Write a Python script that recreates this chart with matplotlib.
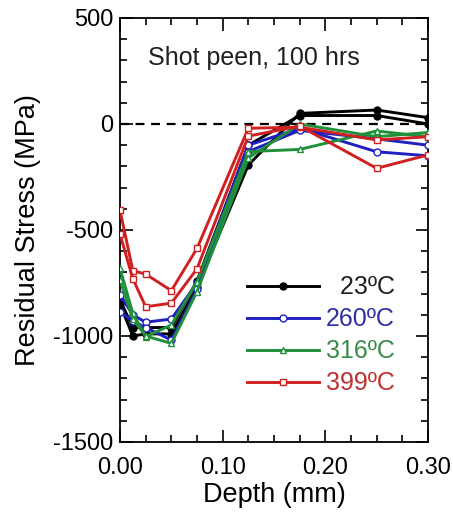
import matplotlib
matplotlib.use("Agg")
import matplotlib.pyplot as plt
from matplotlib.ticker import MultipleLocator

plt.rcParams['font.family'] = ['Liberation Sans', 'DejaVu Sans']
plt.rcParams['axes.unicode_minus'] = False

depth = [0.0, 0.0125, 0.025, 0.05, 0.075, 0.125, 0.175, 0.25, 0.30]

t23_a = [-850, -1000, -990, -990, -770, -193, 50, 66, 30]
t23_b = [-830, -960, -960, -960, -740, -100, 40, 40, 0]
t260_a = [-807, -900, -935, -920, -750, -100, -20, -131, -150]
t260_b = [-885, -930, -960, -1019, -780, -130, -30, -70, -100]
t316_a = [-681, -893, -1003, -948, -743, -130, -120, -33, -60]
t316_b = [-736, -920, -1000, -1035, -791, -160, 0, -60, -40]
t399_a = [-406, -692, -708, -786, -587, -20, -15, -75, -60]
t399_b = [-519, -730, -862, -845, -683, -57, -10, -209, -146]

labels = ["  23ºC", "260ºC", "316ºC", "399ºC"]
line_colors = ["#000000", "#2020c0", "#20903a", "#d02020"]
text_colors = ["#202020", "#3030a0", "#3a8a4a", "#c03030"]
markers = ["o", "o", "^", "s"]
fills = ["#000000", "white", "white", "white"]

fig = plt.figure(figsize=(4.53, 5.14), dpi=100)
ax = fig.add_axes([120/453, 1-442/514, 308/453, 424/514])

ax.plot([0, 0.30], [0, 0], color="black", lw=1.6, ls=(0, (4, 3)), zorder=1)

series = [(t23_a, t23_b), (t260_a, t260_b), (t316_a, t316_b), (t399_a, t399_b)]
handles = []
for (a, b), c, m, f, lab in zip(series, line_colors, markers, fills, labels):
    h, = ax.plot(depth, a, color=c, lw=2.1, marker=m, ms=5, mfc=f, mec=c, mew=1,
                 label=lab, zorder=3)
    ax.plot(depth, b, color=c, lw=2.1, marker=m, ms=5, mfc=f, mec=c, mew=1,
            zorder=3)
    handles.append(h)

ax.set_xlim(0, 0.30)
ax.set_ylim(-1500, 500)
ax.xaxis.set_minor_locator(MultipleLocator(0.025))
ax.yaxis.set_major_locator(MultipleLocator(500))
ax.yaxis.set_minor_locator(MultipleLocator(100))
ax.set_xticks([0, 0.1, 0.2, 0.3])
ax.set_xticklabels(["0.00", "0.10", "0.20", "0.30"])
ax.tick_params(which="both", direction="in", top=True, right=True, width=1.2)
ax.tick_params(which="major", length=9, labelsize=17)
ax.tick_params(axis="x", which="major", pad=11)
ax.tick_params(axis="y", which="major", pad=5)
ax.tick_params(which="minor", length=5)
for s in ax.spines.values():
    s.set_linewidth(1.3)

ax.set_xlabel("Depth (mm)", fontsize=19.5)
ax.xaxis.set_label_coords(0.5, -0.095)
ax.set_ylabel("Residual Stress (MPa)", fontsize=19.5)
ax.yaxis.set_label_coords(-0.255, 0.5)

ax.text(0.0273, 278, "Shot peen, 100 hrs", fontsize=18, ha="left", va="baseline", color="#202020")

leg = ax.legend(handles=handles, loc="lower right", bbox_to_anchor=(0.893, 0.11),
                frameon=False, fontsize=18, handlelength=2.85, handletextpad=0.3,
                labelspacing=0.32, borderpad=0, borderaxespad=0)
for t, c in zip(leg.get_texts(), text_colors):
    t.set_color(c)

fig.savefig("out.png", dpi=100)
